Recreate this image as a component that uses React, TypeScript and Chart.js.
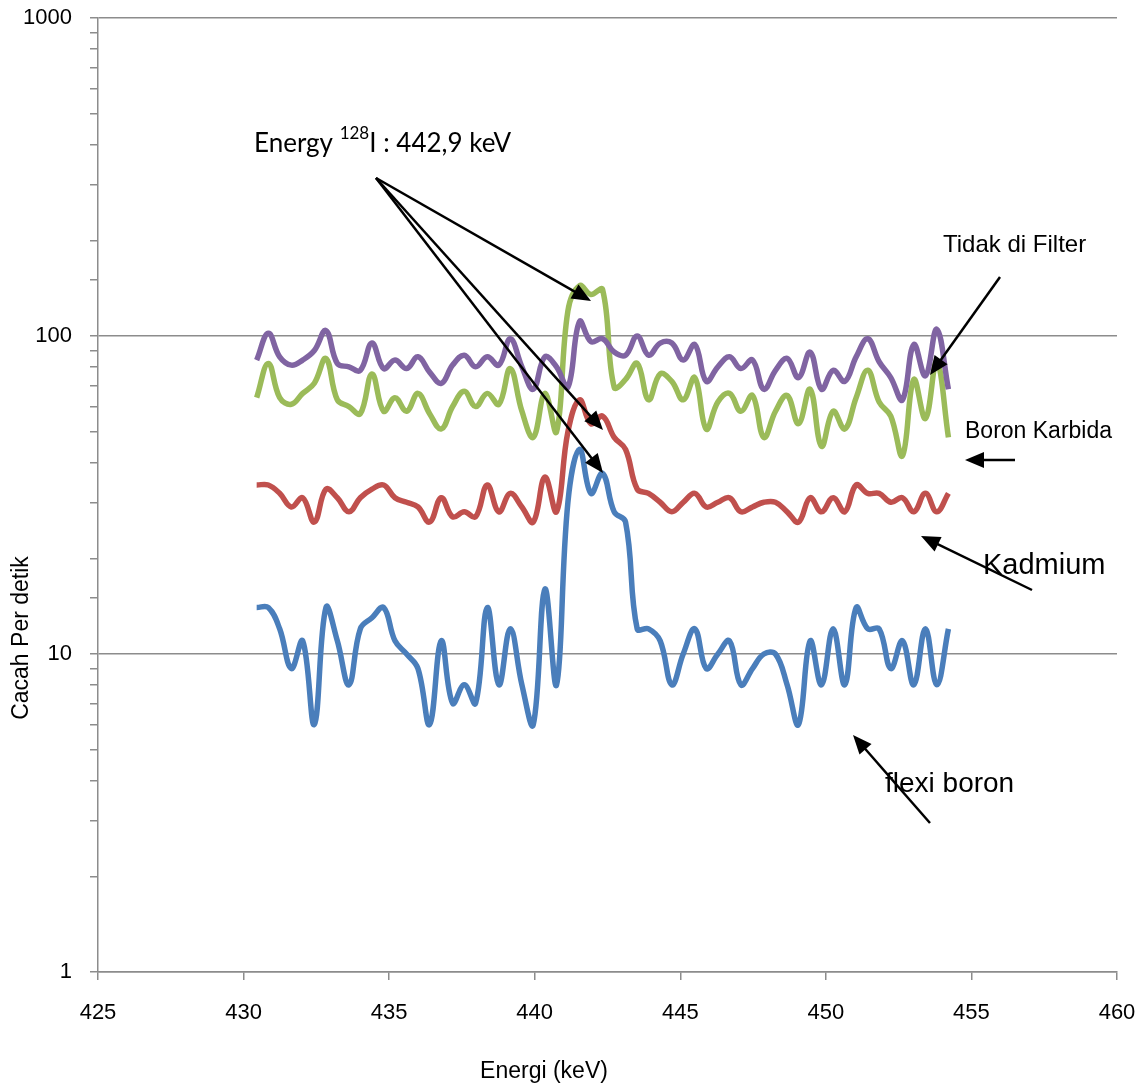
import React, { useEffect, useRef } from 'react';
import { Chart, registerables } from 'chart.js';

Chart.register(...registerables);

// Energy (keV) of each channel
const energy = [
  430.45, 430.85, 431.24, 431.64, 432.03, 432.43, 432.83, 433.22, 433.62, 434.01,
  434.41, 434.81, 435.20, 435.60, 435.99, 436.39, 436.79, 437.18, 437.58, 437.97,
  438.37, 438.77, 439.16, 439.56, 439.95, 440.35, 440.75, 441.14, 441.54, 441.93,
  442.33, 442.73, 443.12, 443.52, 443.91, 444.31, 444.71, 445.10, 445.50, 445.89,
  446.29, 446.69, 447.08, 447.48, 447.87, 448.27, 448.67, 449.06, 449.46, 449.85,
  450.25, 450.65, 451.04, 451.44, 451.83, 452.23, 452.63, 453.02, 453.42, 453.81,
  454.21,
];

// Cacah per detik for each filter
const tidakDiFilter = [
  84, 102, 86, 81, 84, 90, 104, 82, 80, 78,
  95, 79, 84, 79, 86, 77, 71, 81, 87, 80,
  86, 81, 98, 80, 68, 86, 80, 69, 111, 96,
  98, 89, 87, 100, 87, 95, 95, 84, 94, 72,
  80, 86, 79, 84, 68, 78, 85, 74, 89, 68,
  78, 72, 86, 98, 83, 74, 63, 94, 75, 105,
  68,
];
const boronKarbida = [
  64, 82, 64, 61, 66, 71, 85, 63, 60, 57,
  76, 58, 64, 58, 66, 57, 51, 60, 67, 60,
  66, 61, 79, 58, 48, 66, 50, 120, 144, 135,
  140, 69, 73, 82, 63, 76, 72, 63, 74, 51,
  62, 66, 58, 65, 48, 58, 65, 53, 68, 45,
  58, 51, 64, 78, 62, 56, 42, 73, 55, 83,
  48,
];
const kadmium = [
  34, 34, 32, 29, 31, 26, 33, 31, 28, 31,
  33, 34, 31, 30, 29, 26, 31, 27, 28, 27,
  34, 28, 32, 29, 26, 36, 28, 50, 63, 53,
  56, 48, 44, 33, 32, 30, 28, 30, 32, 29,
  30, 31, 28, 29, 30, 30, 28, 26, 31, 28,
  31, 28, 34, 32, 32, 30, 31, 28, 32, 28,
  32,
];
const flexiBoron = [
  14, 14, 12, 9, 11, 6, 14, 11, 8, 12,
  13, 14, 11, 10, 9, 6, 11, 7, 8, 7,
  14, 8, 12, 8, 6, 16, 8, 30, 44, 32,
  37, 28, 26, 12, 12, 11, 8, 10, 12, 9,
  10, 11, 8, 9, 10, 10, 8, 6, 11, 8,
  12, 8, 14, 12, 12, 9, 11, 8, 12, 8,
  12,
];

const seriesNames = ['Tidak di Filter', 'Boron Karbida', 'Kadmium', 'flexi boron'];
const majorYTicks = [1, 10, 100, 1000];

const AXIS_FONT = '"Liberation Sans", Arial, sans-serif';
const GRID_COLOR = '#8c8c8c';

function drawArrow(ctx: CanvasRenderingContext2D, x1: number, y1: number, x2: number, y2: number) {
  const ang = Math.atan2(y2 - y1, x2 - x1);
  const headLen = 19;
  const headW = 8;
  const c = Math.cos(ang);
  const s = Math.sin(ang);
  ctx.beginPath();
  ctx.moveTo(x1, y1);
  ctx.lineTo(x2 - headLen * 0.7 * c, y2 - headLen * 0.7 * s);
  ctx.stroke();
  ctx.beginPath();
  ctx.moveTo(x2, y2);
  ctx.lineTo(x2 - headLen * c + headW * s, y2 - headLen * s - headW * c);
  ctx.lineTo(x2 - headLen * c - headW * s, y2 - headLen * s + headW * c);
  ctx.closePath();
  ctx.fill();
}

const annotationPlugin = {
  id: 'annotations',
  afterDraw(chart: any) {
    const ctx: CanvasRenderingContext2D = chart.ctx;
    ctx.save();
    ctx.fillStyle = '#000';
    ctx.strokeStyle = '#000';
    ctx.lineWidth = 2.5;

    // axis titles
    ctx.font = `23px ${AXIS_FONT}`;
    ctx.textAlign = 'center';
    ctx.textBaseline = 'middle';
    ctx.fillText('Energi (keV)', 544, 1072);
    ctx.save();
    ctx.translate(22, 638);
    ctx.rotate(-Math.PI / 2);
    ctx.fillText('Cacah Per detik', 0, 0);
    ctx.restore();

    // Energy annotation
    ctx.textAlign = 'left';
    ctx.textBaseline = 'alphabetic';
    ctx.font = '26px Lato, "Open Sans", sans-serif';
    let x = 254;
    const part1 = 'Energy ';
    ctx.fillText(part1, x, 152);
    x += ctx.measureText(part1).width;
    ctx.font = '17px Lato, "Open Sans", sans-serif';
    ctx.fillText('128', x, 139);
    x += ctx.measureText('128').width;
    ctx.font = '26px Lato, "Open Sans", sans-serif';
    ctx.fillText('I : 442,9 keV', x, 152);

    drawArrow(ctx, 376, 178, 591, 301);
    drawArrow(ctx, 376, 178, 603, 430);
    drawArrow(ctx, 376, 178, 603, 473);

    // series labels
    ctx.font = `24px ${AXIS_FONT}`;
    ctx.fillText(seriesNames[0], 943, 252);
    drawArrow(ctx, 1000, 277, 930, 375);

    ctx.font = `23px ${AXIS_FONT}`;
    ctx.fillText(seriesNames[1], 965, 438);
    drawArrow(ctx, 1015, 460, 965, 460);

    ctx.font = `29px ${AXIS_FONT}`;
    ctx.fillText(seriesNames[2], 983, 574);
    drawArrow(ctx, 1032, 590, 921, 536);

    ctx.font = `28px ${AXIS_FONT}`;
    ctx.fillText(seriesNames[3], 885, 792);
    drawArrow(ctx, 930, 823, 853, 735);

    ctx.restore();
  },
};

function toPoints(vals: number[]) {
  return energy.map((e, i) => ({ x: e, y: vals[i] }));
}

function clearScalePadding(s: any) {
  s.paddingTop = 0;
  s.paddingBottom = 0;
  s.paddingLeft = 0;
  s.paddingRight = 0;
}

export default function App() {
  const canvasRef = useRef<HTMLCanvasElement | null>(null);

  useEffect(() => {
    const canvas = canvasRef.current;
    if (!canvas) return;
    const chart = new Chart(canvas, {
      type: 'line',
      data: {
        datasets: [
          { label: seriesNames[0], data: toPoints(tidakDiFilter), borderColor: '#8064A2', order: 0 },
          { label: seriesNames[1], data: toPoints(boronKarbida), borderColor: '#9BBB59', order: 1 },
          { label: seriesNames[2], data: toPoints(kadmium), borderColor: '#C0504D', order: 2 },
          { label: seriesNames[3], data: toPoints(flexiBoron), borderColor: '#4A7EBB', order: 3 },
        ],
      },
      options: {
        animation: false,
        responsive: false,
        maintainAspectRatio: false,
        layout: { autoPadding: false, padding: { left: 0, top: 18, right: 28, bottom: 0 } },
        plugins: {
          legend: { display: false },
          tooltip: { enabled: false },
          title: { display: false },
        },
        elements: {
          point: { radius: 0 },
          line: { tension: 0.4, borderWidth: 5.5, fill: false },
        },
        scales: {
          x: {
            type: 'linear',
            min: 425,
            max: 460,
            ticks: {
              stepSize: 5,
              color: '#000',
              font: { family: AXIS_FONT, size: 22 },
              padding: 20,
            },
            grid: { drawOnChartArea: false, tickLength: 8, tickColor: GRID_COLOR, lineWidth: 1.5 },
            border: { color: GRID_COLOR, width: 1.5 },
            afterFit: (s: any) => { s.height = 114; clearScalePadding(s); },
          },
          y: {
            type: 'logarithmic',
            min: 1,
            max: 1000,
            ticks: {
              autoSkip: false,
              color: '#000',
              font: { family: AXIS_FONT, size: 22 },
              padding: 18,
              callback: (v: any) => (majorYTicks.includes(Number(v)) ? String(v) : ''),
            },
            grid: {
              tickLength: 8,
              tickColor: GRID_COLOR,
              lineWidth: 1.5,
              color: (c: any) => (c.tick && majorYTicks.includes(Number(c.tick.value)) ? GRID_COLOR : 'rgba(0,0,0,0)'),
            },
            border: { color: GRID_COLOR, width: 1.5 },
            afterFit: (s: any) => { s.width = 98; clearScalePadding(s); },
          },
        },
      },
      plugins: [annotationPlugin],
    } as any);
    return () => chart.destroy();
  }, []);

  return (
    <div style={{ position: 'absolute', left: 0, top: 0, width: 1145, height: 1086, background: '#fff' }}>
      <canvas ref={canvasRef} width={1145} height={1086} style={{ display: 'block' }} />
    </div>
  );
}
